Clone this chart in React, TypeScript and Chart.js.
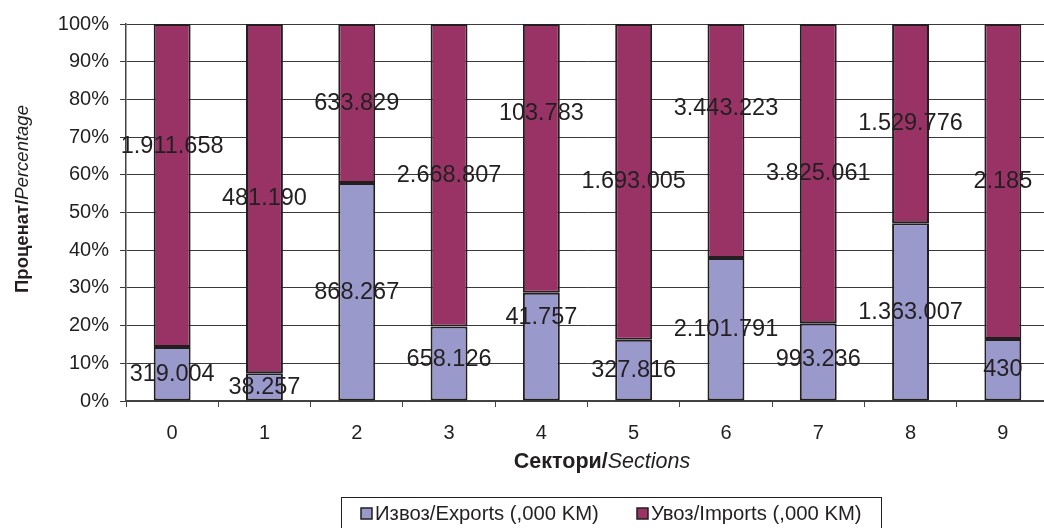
import React, { useEffect, useRef } from "react";
import { Chart, registerables } from "chart.js";

Chart.register(...registerables);

const categories = ["0", "1", "2", "3", "4", "5", "6", "7", "8", "9"];
const exportsKM = [319004, 38257, 868267, 658126, 41757, 327816, 2101791, 993236, 1363007, 430];
const importsKM = [1911658, 481190, 633829, 2668807, 103783, 1693005, 3443223, 3825061, 1529776, 2185];
// manual label nudges in percentage points (as in the original chart)
const exportsLabelNudge = [0, 0, 0, 1, 7.7, 0, 0, 0.7, 0, 0];
const importsLabelNudge = [10.3, 0, 0, 0, 12, 0, 8.6, 0, 0, 0];
const seriesNames = ["Извоз/Exports (,000 KM)", "Увоз/Imports (,000 KM)"];
const seriesColors = ["#9999CC", "#993366"];

const FONT = "'Liberation Sans', Arial, sans-serif";

function fmt(n: number): string {
  return String(n).replace(/\B(?=(\d{3})+(?!\d))/g, ".");
}

const totals = exportsKM.map((v, i) => v + importsKM[i]);
const exportsPct = exportsKM.map((v, i) => (v / totals[i]) * 100);
const importsPct = importsKM.map((v, i) => (v / totals[i]) * 100);

const raw = [exportsKM, importsKM];
const nudges = [exportsLabelNudge, importsLabelNudge];

const decorPlugin = {
  id: "decor",
  afterDatasetsDraw(chart: any) {
    const ctx = chart.ctx;
    const yScale = chart.scales.y;
    ctx.save();
    ctx.font = `23.5px ${FONT}`;
    ctx.fillStyle = "#231f20";
    ctx.textAlign = "center";
    ctx.textBaseline = "middle";
    chart.data.datasets.forEach((ds: any, di: number) => {
      const meta = chart.getDatasetMeta(di);
      meta.data.forEach((el: any, i: number) => {
        const start = di === 0 ? 0 : exportsPct[i];
        const mid = start + ds.data[i] / 2 + nudges[di][i];
        const y = yScale.getPixelForValue(mid);
        ctx.fillText(fmt(raw[di][i]), el.x, y);
      });
    });
    ctx.restore();
  },
  afterDraw(chart: any) {
    const ctx = chart.ctx;
    ctx.save();
    ctx.fillStyle = "#231f20";
    ctx.textBaseline = "middle";
    ctx.textAlign = "left";
    const drawMixed = (a: string, b: string, size: number) => {
      ctx.font = `bold ${size}px ${FONT}`;
      const wa = ctx.measureText(a).width;
      ctx.font = `italic ${size}px ${FONT}`;
      const wb = ctx.measureText(b).width;
      const x0 = -(wa + wb) / 2;
      ctx.font = `bold ${size}px ${FONT}`;
      ctx.fillText(a, x0, 0);
      ctx.font = `italic ${size}px ${FONT}`;
      ctx.fillText(b, x0 + wa, 0);
    };
    // y title
    ctx.save();
    ctx.translate(23, 199);
    ctx.rotate(-Math.PI / 2);
    drawMixed("Проценат/", "Percentage", 18.5);
    ctx.restore();
    // x title
    ctx.save();
    ctx.translate(602, 462);
    drawMixed("Сектори/", "Sections", 21.5);
    ctx.restore();
    // legend
    ctx.strokeStyle = "#231f20";
    ctx.lineWidth = 1;
    ctx.strokeRect(341.5, 497.5, 540, 60);
    ctx.font = `20.3px ${FONT}`;
    const sq = [361, 637];
    seriesNames.forEach((name, i) => {
      ctx.fillStyle = seriesColors[i];
      ctx.fillRect(sq[i], 508, 11, 11);
      ctx.strokeStyle = "#231f20";
      ctx.lineWidth = 1.5;
      ctx.strokeRect(sq[i], 508, 11, 11);
      ctx.fillStyle = "#231f20";
      ctx.fillText(name, sq[i] + 14, 514);
    });
    ctx.restore();
  },
};

export default function App() {
  const ref = useRef<HTMLCanvasElement | null>(null);
  useEffect(() => {
    if (!ref.current) return;
    const chart = new Chart(ref.current, {
      type: "bar",
      data: {
        labels: categories,
        datasets: [
          {
            label: seriesNames[0],
            data: exportsPct,
            backgroundColor: seriesColors[0],
            borderColor: "#231f20",
            borderWidth: 2,
            borderSkipped: false,
            categoryPercentage: 1,
            barPercentage: 0.4,
          },
          {
            label: seriesNames[1],
            data: importsPct,
            backgroundColor: seriesColors[1],
            borderColor: "#231f20",
            borderWidth: 2,
            borderSkipped: false,
            categoryPercentage: 1,
            barPercentage: 0.4,
          },
        ],
      },
      options: {
        animation: false,
        responsive: false,
        devicePixelRatio: 1,
        layout: { padding: { left: 0, top: 24, right: 11, bottom: 0 } },
        plugins: { legend: { display: false }, tooltip: { enabled: false } },
        scales: {
          x: {
            stacked: true,
            grid: { offset: true, drawOnChartArea: false, drawTicks: true, tickLength: 6, color: "#444" },
            border: { color: "#444", width: 1.5 },
            ticks: { font: { family: FONT, size: 20 }, color: "#231f20", padding: 14, maxRotation: 0 },
            afterFit(s: any) {
              s.height = 127;
            },
          },
          y: {
            stacked: true,
            min: 0,
            max: 100,
            grid: { color: "#3a3a3a", tickLength: 6, lineWidth: 1 },
            border: { color: "#444", width: 1.5 },
            ticks: {
              stepSize: 10,
              font: { family: FONT, size: 20 },
              color: "#231f20",
              padding: 11,
              callback: (v: any) => v + "%",
            },
            afterFit(s: any) {
              s.width = 126;
            },
          },
        },
      },
      plugins: [decorPlugin],
    });
    return () => chart.destroy();
  }, []);
  return (
    <div style={{ position: "fixed", left: 0, top: 0, width: 1044, height: 528, overflow: "hidden", background: "#fff" }}>
      <canvas ref={ref} width={1060} height={528} style={{ width: 1060, height: 528, display: "block" }} />
    </div>
  );
}
